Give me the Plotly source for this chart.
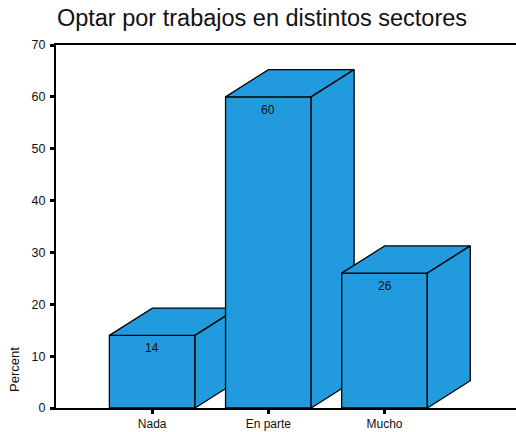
import plotly.graph_objects as go

categories = ["Nada", "En parte", "Mucho"]
percents = [14, 60, 26]
y_ticks = [0, 10, 20, 30, 40, 50, 60, 70]
title_text = "Optar por trabajos en distintos sectores"
y_title = "Percent"

BAR_COLOR = "rgb(33,155,222)"
HALF_W = 0.3685   # half bar width (category units)
DX = 0.370        # depth offset in x (category units)
DY = 5.26         # depth offset in y (percent units)
FONT = "Liberation Sans, Arial"

fig = go.Figure()
for i, v in enumerate(percents):
    x0, x1 = i - HALF_W, i + HALF_W
    faces = [
        # front
        ([x0, x1, x1, x0, x0], [0, 0, v, v, 0]),
        # top
        ([x0, x1, x1 + DX, x0 + DX, x0], [v, v, v + DY, v + DY, v]),
        # side
        ([x1, x1 + DX, x1 + DX, x1, x1], [0, DY, v + DY, v, 0]),
    ]
    for fx, fy in faces:
        fig.add_trace(go.Scatter(
            x=fx, y=fy, mode="lines", fill="toself", fillcolor=BAR_COLOR,
            line=dict(color="black", width=1.3), hoverinfo="skip", showlegend=False,
        ))
    fig.add_annotation(x=i, y=v, text=str(v), showarrow=False, yshift=-13,
                       font=dict(size=12, color="#111", family=FONT))

fig.add_annotation(xref="paper", yref="paper", x=(14 - 56) / 460, y=(408 - 370) / 363,
                   xanchor="center", yanchor="middle",
                   text=y_title, textangle=-90, showarrow=False,
                   font=dict(size=13, color="#111", family=FONT))

fig.update_layout(
    width=516, height=432,
    margin=dict(l=56, r=0, t=45, b=24, pad=0, autoexpand=False),
    paper_bgcolor="white", plot_bgcolor="white",
    showlegend=False,
    title=dict(text=title_text, x=262 / 516, xanchor="center", xref="container",
               y=1 - 18 / 432, yanchor="middle", yref="container",
               font=dict(size=23.5, color="#111", family=FONT)),
    xaxis=dict(
        range=[-0.828, 3.132], tickvals=[0, 1, 2], ticktext=categories,
        showgrid=False, zeroline=False, showline=True, linecolor="black", linewidth=1.6,
        mirror=True, ticks="outside", ticklen=4, tickwidth=2.5, tickcolor="black",
        tickfont=dict(size=12, color="#111", family=FONT),
        fixedrange=True, automargin=False,
    ),
    yaxis=dict(
        range=[0, 70], tickvals=y_ticks, showgrid=False, zeroline=False,
        showline=True, linecolor="black", linewidth=2,
        ticks="outside", ticklen=4, tickwidth=2.5, tickcolor="black",
        tickfont=dict(size=12.5, color="#111", family=FONT),
        ticklabelstandoff=2, fixedrange=True, automargin=False,
    ),
)

fig.write_html("out.html", config={"displayModeBar": False},
               post_script="document.body.style.margin='0';document.body.style.overflow='hidden';")
